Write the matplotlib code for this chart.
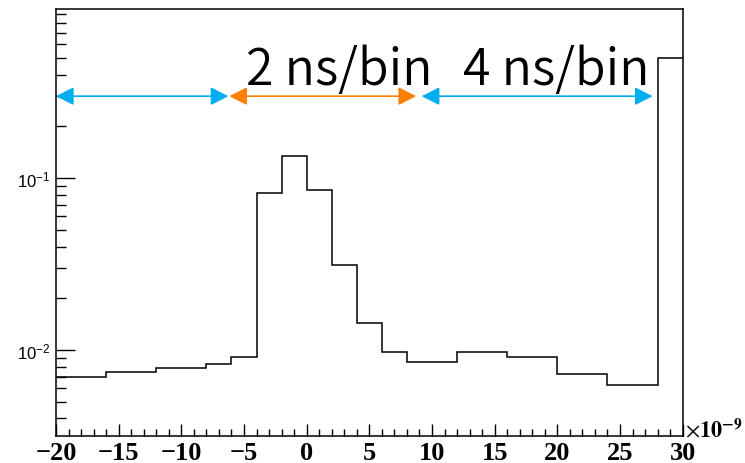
import matplotlib
matplotlib.use("Agg")
import matplotlib.pyplot as plt
from matplotlib.ticker import MultipleLocator, FixedLocator, NullFormatter, FixedFormatter

# ---- data ----
bin_edges = [-20, -16, -12, -8, -6, -4, -2, 0, 2, 4, 6, 8, 12, 16, 20, 24, 28, 30]
bin_values = [6.96e-3, 7.41e-3, 7.89e-3, 8.26e-3, 9.15e-3,
              8.15e-2, 0.1337, 0.0851, 0.0311, 0.01426, 9.73e-3,
              8.48e-3, 9.73e-3, 9.15e-3, 7.22e-3, 6.29e-3, 0.502]
arrow_starts = [-20.0, -6.17, 9.18]
arrow_ends = [-6.25, 8.73, 27.6]
arrow_colors = ["#00aeef", "#ff7f00", "#00aeef"]
arrow_level = 0.30
region_labels = ["2 ns/bin", "4 ns/bin"]
region_label_x = [2.6, 19.9]
region_label_y = 0.353
xtick_values = [-20, -15, -10, -5, 0, 5, 10, 15, 20, 25, 30]
xtick_labels = ["\u221220", "\u221215", "\u221210", "\u22125", "0", "5", "10", "15", "20", "25", "30"]
ytick_values = [1e-2, 1e-1]
ytick_labels = [r"$10^{-2}$", r"$10^{-1}$"]

plt.rcParams["mathtext.fontset"] = "custom"
plt.rcParams["mathtext.rm"] = "Liberation Sans"
plt.rcParams["mathtext.it"] = "Liberation Sans:italic"
plt.rcParams["mathtext.bf"] = "Liberation Sans:bold"

fig = plt.figure(figsize=(7.45, 4.64), dpi=100)
L, R, B, T = 56 / 745, 682.7 / 745, 1 - 436.7 / 464, 1 - 10 / 464
ax = fig.add_axes([L, B, R - L, T - B])

ax.stairs(bin_values, bin_edges, baseline=None, color="black", lw=1.1)

ax.set_xlim(-20, 30)
ax.set_yscale("log")
ax.set_ylim(3.17e-3, 0.965)

# x ticks
ax.xaxis.set_major_locator(FixedLocator(xtick_values))
ax.xaxis.set_major_formatter(FixedFormatter(xtick_labels))
ax.xaxis.set_minor_locator(MultipleLocator(1))
ax.tick_params(axis="x", which="major", direction="in", length=8.5, width=1,
               top=False, pad=4)
ax.tick_params(axis="x", which="minor", direction="in", length=4.8, width=1, top=False)
for lab in ax.get_xticklabels():
    lab.set_fontfamily("Liberation Serif")
    lab.set_fontweight("bold")
    lab.set_fontsize(19)

# y ticks
ax.yaxis.set_major_locator(FixedLocator(ytick_values))
ax.yaxis.set_major_formatter(FixedFormatter(ytick_labels))
minor = [m * 10.0 ** e for e in (-3, -2, -1) for m in range(2, 10)]
ax.yaxis.set_minor_locator(FixedLocator(minor))
ax.yaxis.set_minor_formatter(NullFormatter())
ax.tick_params(axis="y", which="major", direction="in", length=13.5, width=1,
               right=False, pad=4, labelsize=12)
ax.tick_params(axis="y", which="minor", direction="in", length=7.5, width=1, right=False)

for s in ax.spines.values():
    s.set_linewidth(1.1)
    s.set_color("black")

# arrows
for x0, x1, c in zip(arrow_starts, arrow_ends, arrow_colors):
    ax.annotate("", xy=(x1, arrow_level), xytext=(x0, arrow_level),
                arrowprops=dict(arrowstyle="<|-|>,head_length=1.08,head_width=0.55",
                                color=c, lw=1.2, shrinkA=0, shrinkB=0,
                                mutation_scale=10))

for x, t in zip(region_label_x, region_labels):
    ax.text(x, region_label_y, t, ha="center", va="baseline", fontsize=36,
            fontweight=350,
            family=["Noto Sans CJK JP", "DejaVu Sans"], color="black")

fig.text(685 / 745, 1 - 437 / 464, r"$\times\mathbf{10}^{\mathbf{-9}}$", fontsize=16,
         math_fontfamily="stix", ha="left", va="baseline")

fig.savefig("out.png", dpi=100)
